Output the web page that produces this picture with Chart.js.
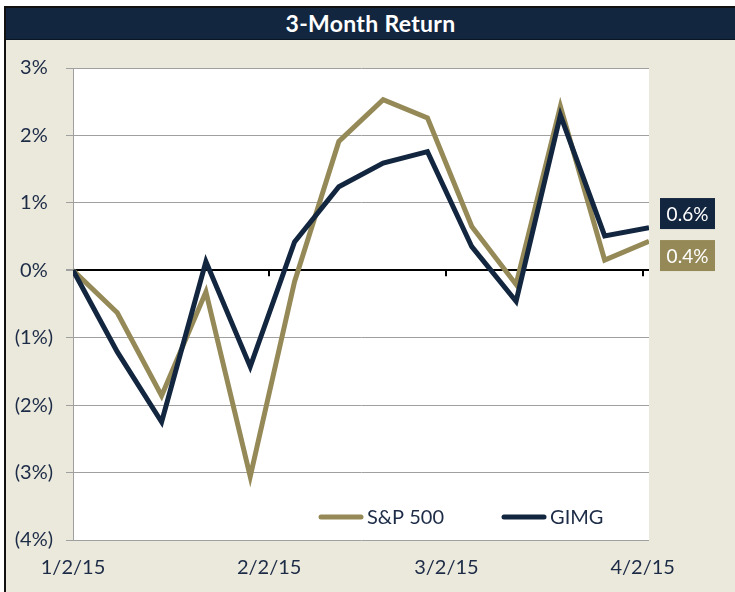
<!DOCTYPE html>
<html><head><meta charset="utf-8">
<script src="https://cdn.jsdelivr.net/npm/chart.js@4.4.1/dist/chart.umd.min.js"></script>
<style>
html,body{margin:0;padding:0;background:#fff;width:735px;height:592px;overflow:hidden;font-family:Lato,"Open Sans",sans-serif}
#frame{position:absolute;left:4px;top:6px;width:731px;height:586px;background:#ebe8dc;border-left:2px solid #111;border-top:2px solid #111;box-sizing:border-box}
#title{height:31px;background:#13263f;color:#fff;font-weight:bold;font-size:23px;text-align:center;line-height:31px;border-bottom:1px solid #0a1524;letter-spacing:0.3px}
#wrap{position:absolute;left:0;top:32px;width:729px;height:552px}
</style>
</head><body>
<div id="frame">
  <div id="title">3-Month Return</div>
  <div id="wrap"><canvas id="c"></canvas></div>
</div>
<script>
// ---- data ----
const dates = ['2015-01-02','2015-01-09','2015-01-16','2015-01-23','2015-01-30','2015-02-06','2015-02-13',
               '2015-02-20','2015-02-27','2015-03-06','2015-03-13','2015-03-20','2015-03-27','2015-04-03'];
const sp500 = [0, -0.63, -1.86, -0.32, -3.06, -0.17, 1.91, 2.53, 2.26, 0.65, -0.21, 2.43, 0.15, 0.43];
const gimg  = [0, -1.21, -2.25, 0.13, -1.43, 0.42, 1.24, 1.59, 1.76, 0.35, -0.46, 2.30, 0.51, 0.63];
const xTickDates  = ['2015-01-02','2015-02-02','2015-03-02','2015-04-02'];
const xTickLabels = ['1/2/15','2/2/15','3/2/15','4/2/15'];
const seriesNames = ['S&P 500','GIMG'];

const GOLD = '#958a57', NAVY = '#13263f', TEXT = '#1c2b46', GRID = '#a0a0a0';
const day0 = Date.parse(dates[0]);
const toDay = d => Math.round((Date.parse(d) - day0) / 86400000);
const xs = dates.map(toDay);
const xTickDays = xTickDates.map(toDay);

const plotBg = {
  id: 'plotBg',
  beforeDraw(chart) {
    const {ctx, chartArea: a} = chart;
    ctx.save(); ctx.fillStyle = '#fff';
    ctx.fillRect(a.left, a.top, a.right - a.left, a.bottom - a.top);
    ctx.restore();
  }
};
const zeroTicks = {
  id: 'zeroTicks',
  beforeDatasetsDraw(chart) {
    const {ctx, scales: {x, y}} = chart;
    const y0 = y.getPixelForValue(0);
    ctx.save(); ctx.strokeStyle = '#000'; ctx.lineWidth = 2;
    xTickDays.slice(1).forEach(d => {
      const px = Math.round(x.getPixelForValue(d));
      ctx.beginPath(); ctx.moveTo(px, y0); ctx.lineTo(px, y0 + 6); ctx.stroke();
    });
    ctx.restore();
  }
};
const endLabels = {
  id: 'endLabels',
  afterDatasetsDraw(chart) {
    const {ctx, chartArea: a} = chart;
    const items = chart.data.datasets.map((ds, i) => {
      const meta = chart.getDatasetMeta(i);
      const pt = meta.data[meta.data.length - 1];
      return {y: pt.y, color: ds.borderColor, text: ds.data[ds.data.length - 1].y.toFixed(1) + '%'};
    }).sort((p, q) => p.y - q.y);
    const minSep = 42;
    for (let i = 1; i < items.length; i++) {
      const gap = items[i].y - items[i-1].y;
      if (gap < minSep) {
        const mid = (items[i].y + items[i-1].y) / 2;
        items[i-1].y = mid - minSep / 2; items[i].y = mid + minSep / 2;
      }
    }
    ctx.save();
    ctx.font = '19px Lato, sans-serif';
    ctx.textAlign = 'center'; ctx.textBaseline = 'middle';
    items.forEach(it => {
      const bx = a.right + 11, bw = 55, bh = 31;
      ctx.fillStyle = it.color;
      ctx.fillRect(bx, it.y - bh / 2, bw, bh);
      ctx.fillStyle = '#fff';
      ctx.fillText(it.text, bx + bw / 2, it.y + 1);
    });
    ctx.restore();
  }
};
const inLegend = {
  id: 'inLegend',
  afterDraw(chart) {
    const {ctx, chartArea: a} = chart;
    ctx.save();
    ctx.font = '20px Lato, sans-serif';
    ctx.textBaseline = 'middle';
    let x = a.left + 246;
    const y = a.bottom - 23;
    chart.data.datasets.forEach(ds => {
      ctx.strokeStyle = ds.borderColor; ctx.lineWidth = 5; ctx.lineCap = 'round';
      ctx.beginPath(); ctx.moveTo(x + 2, y); ctx.lineTo(x + 42, y); ctx.stroke();
      ctx.fillStyle = TEXT;
      ctx.fillText(ds.label, x + 48, y + 1);
      x += 48 + ctx.measureText(ds.label).width + 58;
    });
    ctx.restore();
  }
};

new Chart(document.getElementById('c'), {
  type: 'line',
  data: {
    datasets: [
      {label: seriesNames[0], data: xs.map((x, i) => ({x, y: sp500[i]})), borderColor: GOLD, borderWidth: 5, pointRadius: 0, tension: 0, order: 2},
      {label: seriesNames[1], data: xs.map((x, i) => ({x, y: gimg[i]})), borderColor: NAVY, borderWidth: 5, pointRadius: 0, tension: 0, order: 1}
    ]
  },
  options: {
    responsive: true, maintainAspectRatio: false, animation: false,
    layout: {padding: {top: 28, right: 86, left: 0, bottom: 0}},
    plugins: {legend: {display: false}, tooltip: {enabled: false}},
    scales: {
      x: {
        type: 'linear', min: 0, max: xs[xs.length - 1],
        afterBuildTicks: s => { s.ticks = xTickDays.map(v => ({value: v})); },
        afterFit: s => { s.height = 52; },
        grid: {display: false, drawTicks: false},
        border: {display: false},
        ticks: {autoSkip: false, maxRotation: 0, padding: 16, color: TEXT, font: {family: 'Lato', size: 20},
                callback: v => xTickLabels[xTickDays.indexOf(v)]}
      },
      y: {
        min: -4, max: 3,
        afterFit: s => { s.width = 67; },
        ticks: {stepSize: 1, padding: 13, crossAlign: 'center', color: TEXT, font: {family: 'Lato', size: 20},
                callback: v => v < 0 ? '(' + (-v) + '%)' : v + '%'},
        grid: {
          color: c => c.tick && c.tick.value === 0 ? '#000' : GRID,
          lineWidth: c => c.tick && c.tick.value === 0 ? 2 : 1,
          tickColor: GRID, tickLength: 7
        },
        border: {display: true, color: GRID, width: 1}
      }
    }
  },
  plugins: [plotBg, zeroTicks, endLabels, inLegend]
});
</script>
</body></html>
